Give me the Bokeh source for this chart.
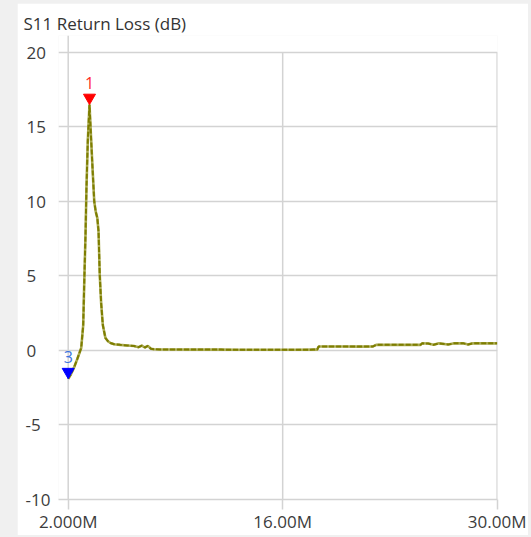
from bokeh.plotting import figure
from bokeh.layouts import row
from bokeh.models import Range1d, ColumnDataSource, FixedTicker
from bokeh.embed import file_html
from bokeh.resources import INLINE
from bokeh.core.properties import value

# ---- data (MHz, dB) ----
freq_mhz = [2.00, 2.15, 2.37, 2.60, 2.85, 2.98, 3.06, 3.13, 3.19, 3.28, 3.39,
            3.50, 3.60, 3.70, 3.80, 3.90, 3.98, 4.06, 4.15, 4.26, 4.43, 4.60,
            4.76, 5.00, 5.40, 5.85, 6.30, 6.60, 6.80, 7.00, 7.20, 7.40, 7.60,
            8.00, 9.00, 10.0, 11.0, 12.0, 13.0, 14.0, 15.0, 16.0, 17.0, 18.0,
            18.25, 18.35, 19.0, 20.0, 21.0, 21.9, 22.1, 23.0, 24.0, 25.0,
            25.1, 25.5, 25.85, 26.2, 26.8, 27.2, 27.8, 28.1, 28.4, 29.0, 30.0]
s11_db = [-1.90, -1.65, -1.17, -0.55, 0.17, 1.71, 5.07, 7.75, 10.8, 14.1, 16.5,
          14.1, 12.0, 10.0, 9.3, 8.9, 8.0, 5.07, 3.2, 1.71, 0.84, 0.62,
          0.50, 0.42, 0.38, 0.34, 0.30, 0.22, 0.33, 0.20, 0.31, 0.12, 0.08,
          0.07, 0.07, 0.06, 0.06, 0.06, 0.05, 0.05, 0.05, 0.05, 0.05, 0.06,
          0.06, 0.27, 0.27, 0.27, 0.26, 0.27, 0.38, 0.38, 0.38, 0.38,
          0.48, 0.47, 0.38, 0.48, 0.40, 0.48, 0.48, 0.40, 0.48, 0.48, 0.48]

x_ticks = [2, 16, 30]
x_tick_labels = ["2.000M", "16.00M", "30.00M"]
y_ticks = [-10, -5, 0, 5, 10, 15, 20]
y_tick_labels = ["-10", "-5", "0", "5", "10", "15", "20"]

marker_ids = ["1", "3"]
marker_freq = [3.39, 2.00]
marker_db = [16.5, -1.90]
marker_colors = ["#ff0000", "#0000ff"]
marker_label_colors = ["#ff2a2a", "#3a74e0"]

title_text = "S11 Return Loss (dB)"

# ---- layout ----
W, H = 511, 532
FW, FH = 439, 465
LEFT, TOP = 41, 32
PPM = 15.32                       # px per MHz
X0 = x_ticks[0] - 9.7 / PPM       # frame starts a little left of 2 MHz
X1 = X0 + FW / PPM
Y0, Y1 = -10, 21.14
ppd = FH / (Y1 - Y0)

GRID = "#d3d3d3"
TXT = "#3c3c3c"
FONT = "Open Sans"
FS = "17px"

p = figure(width=W, height=H, x_range=Range1d(X0, X1), y_range=Range1d(Y0, Y1),
           output_backend="svg", toolbar_location=None,
           min_border_left=LEFT, min_border_right=W - LEFT - FW,
           min_border_top=TOP, min_border_bottom=H - TOP - FH)
p.margin = (3, 3, 2, 17)
p.outline_line_color = None
p.background_fill_color = "white"
p.border_fill_color = "white"

p.title.text = title_text
p.title.text_font = FONT
p.title.text_font_size = FS
p.title.text_font_style = "normal"
p.title.text_color = "#333333"
p.title.align = "left"
p.title.offset = -35
p.title.standoff = 2

p.xgrid.visible = False
p.ygrid.ticker = FixedTicker(ticks=y_ticks)
p.ygrid.grid_line_color = GRID
p.ygrid.grid_line_width = 1.5

# vertical grid lines: the first one runs to the top of the frame
p.segment(x0=x_ticks, x1=x_ticks, y0=[y_ticks[0]] * len(x_ticks),
          y1=[Y1] + [y_ticks[-1]] * (len(x_ticks) - 1),
          line_color=GRID, line_width=1.5)

for ax in (p.xaxis[0], p.yaxis[0]):
    ax.major_tick_in = 0
    ax.minor_tick_line_color = None
    ax.major_label_text_font = FONT
    ax.major_label_text_font_size = FS
    ax.major_label_text_color = TXT

p.xaxis.ticker = FixedTicker(ticks=x_ticks)
p.xaxis.major_label_overrides = {t: l for t, l in zip(x_ticks, x_tick_labels)}
p.xaxis.axis_line_color = GRID
p.xaxis.axis_line_width = 1.5
p.xaxis.major_tick_line_color = GRID
p.xaxis.major_tick_line_width = 1.5
p.xaxis.major_tick_out = 10
p.xaxis.major_label_standoff = 0

# y labels drawn left-aligned: pad shorter labels with figure/punctuation spaces
FIG, PUN = "\u2007", "\u2008"
def pad(s):
    digits = sum(c.isdigit() for c in s)
    minus = s.startswith("-")
    return s + FIG * (2 - digits) + ("" if minus else PUN)

p.yaxis.ticker = FixedTicker(ticks=y_ticks)
p.yaxis.major_label_overrides = {t: pad(l) for t, l in zip(y_ticks, y_tick_labels)}
p.yaxis.axis_line_color = None
p.yaxis.major_tick_line_color = None
p.yaxis.major_tick_out = 0
p.yaxis.major_label_standoff = 8

# trace
p.line(freq_mhz, s11_db, line_color="#abab52", line_width=2.6)
p.line(freq_mhz, s11_db, line_color="#7d7d00", line_width=2.0, line_dash="5 2")

# markers
msrc = ColumnDataSource(dict(x=marker_freq, y=marker_db,
                             ym=[v + 7 / ppd for v in marker_db],
                             t=marker_ids, c=marker_colors, lc=marker_label_colors))
p.scatter("x", "ym", source=msrc, marker="inverted_triangle", size=12,
          fill_color="c", line_color="c")
p.text("x", "y", text="t", source=msrc, text_color="lc", text_align="center",
       text_baseline="middle", y_offset=-22, text_font=value(FONT), text_font_size="16px")

layout = row(p, styles={"background-color": "#f0f0f0"})
open("out.html", "w").write(file_html(layout, INLINE))
